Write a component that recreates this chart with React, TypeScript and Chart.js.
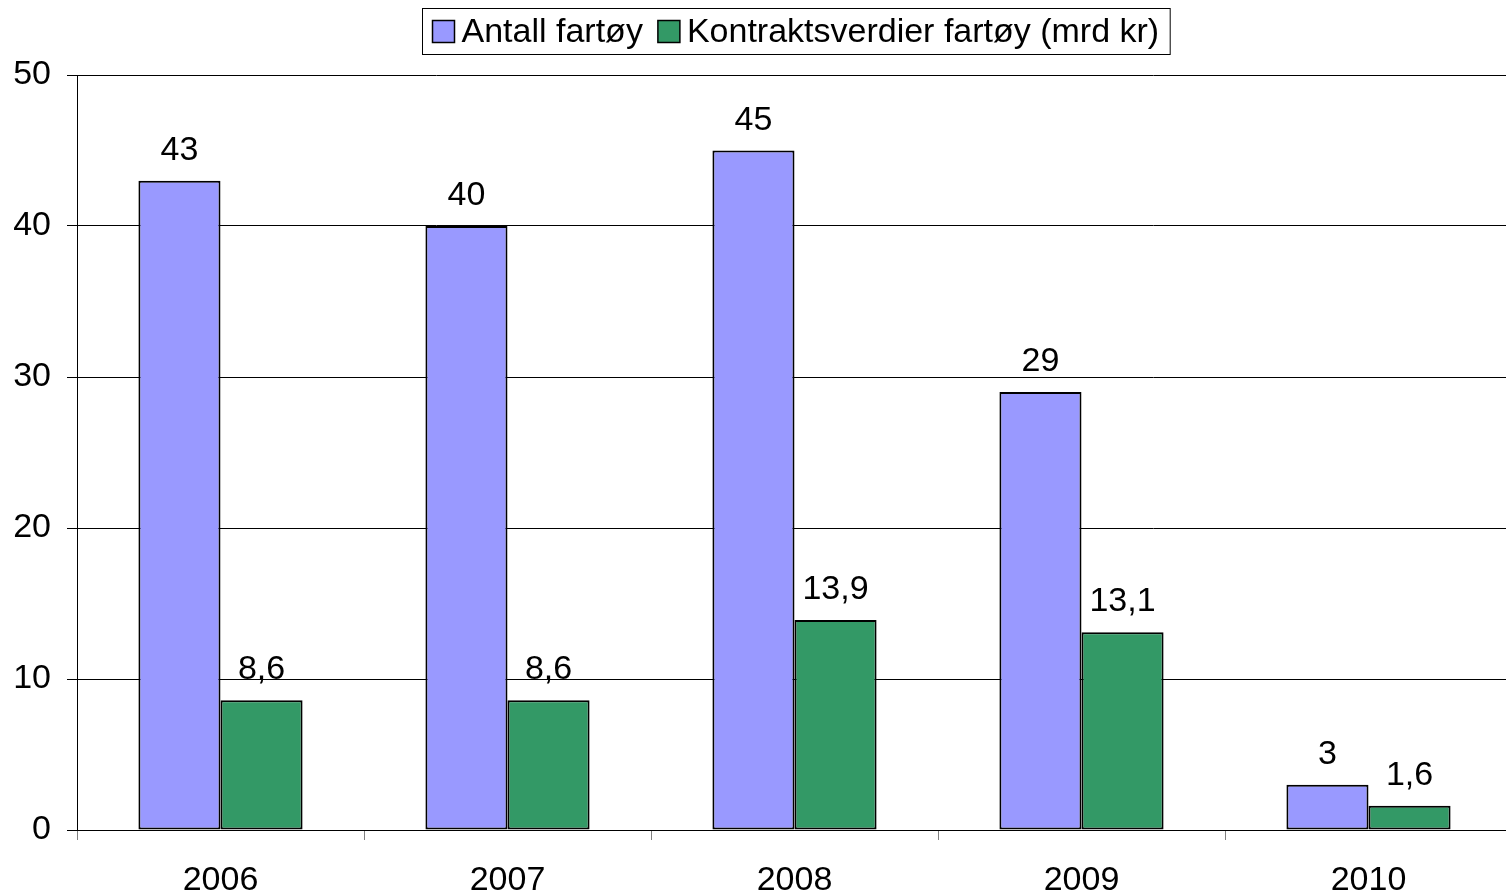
import React, { useEffect, useRef } from "react";
import { Chart, registerables } from "chart.js";

Chart.register(...registerables);

const categories = ["2006", "2007", "2008", "2009", "2010"];
const antallFartoy = [43, 40, 45, 29, 3];
const kontraktsverdier = [8.6, 8.6, 13.9, 13.1, 1.6];
const seriesLabels = ["Antall fartøy", "Kontraktsverdier fartøy (mrd kr)"];
const yTicks = [0, 10, 20, 30, 40, 50];

const FONT = "'Liberation Sans', Arial, sans-serif";
const FS = 34;

const fmt = (v: number) => v.toString().replace(".", ",");

const valueLabels = {
  id: "valueLabels",
  afterDatasetsDraw(chart: any) {
    const ctx = chart.ctx;
    ctx.save();
    ctx.font = `${FS}px ${FONT}`;
    ctx.fillStyle = "#000";
    ctx.textAlign = "center";
    ctx.textBaseline = "alphabetic";
    chart.data.datasets.forEach((ds: any, di: number) => {
      const meta = chart.getDatasetMeta(di);
      meta.data.forEach((bar: any, i: number) => {
        ctx.fillText(fmt(ds.data[i]), bar.x, bar.y - 21);
      });
    });
    ctx.restore();
  },
};

const boxLegend = {
  id: "boxLegend",
  afterDraw(chart: any) {
    const ctx = chart.ctx;
    ctx.save();
    ctx.font = `${FS}px ${FONT}`;
    const ds = chart.data.datasets;
    const widths = ds.map((d: any) => ctx.measureText(d.label).width);
    const padL = 10, padR = 11, sq = 22, gapT = 7, gapItem = 15;
    const total = padL + sq + gapT + widths[0] + gapItem + sq + gapT + widths[1] + padR;
    const cx = 795.5;
    const left = Math.round(cx - total / 2) + 0.5;
    const top = 8.5, h = 46;
    ctx.strokeStyle = "#000";
    ctx.lineWidth = 1;
    ctx.fillStyle = "#fff";
    ctx.fillRect(left, top, total, h);
    ctx.strokeRect(left, top, total, h);
    let x = left + padL;
    const cy = top + h / 2;
    ds.forEach((d: any, i: number) => {
      ctx.fillStyle = d.backgroundColor;
      ctx.fillRect(x, cy - sq / 2, sq, sq);
      ctx.strokeStyle = "#000";
      ctx.lineWidth = 1.5;
      ctx.strokeRect(x, cy - sq / 2, sq, sq);
      x += sq + gapT;
      ctx.fillStyle = "#000";
      ctx.textAlign = "left";
      ctx.textBaseline = "middle";
      ctx.fillText(d.label, x, cy + 1);
      x += widths[i] + gapItem;
    });
    ctx.restore();
  },
};

export default function App() {
  const ref = useRef<HTMLCanvasElement>(null);
  useEffect(() => {
    if (!ref.current) return;
    const chart = new Chart(ref.current, {
      type: "bar",
      data: {
        labels: categories,
        datasets: [
          {
            label: seriesLabels[0],
            data: antallFartoy,
            backgroundColor: "#9999FF",
            borderColor: "#000",
            borderWidth: 2,
            borderSkipped: false,
            categoryPercentage: 0.572,
            barPercentage: 1,
          },
          {
            label: seriesLabels[1],
            data: kontraktsverdier,
            backgroundColor: "#339966",
            borderColor: "#000",
            borderWidth: 2,
            borderSkipped: false,
            categoryPercentage: 0.572,
            barPercentage: 1,
          },
        ],
      },
      options: {
        animation: false,
        responsive: false,
        devicePixelRatio: 1,
        layout: { padding: { top: 75, right: 18, left: 0, bottom: 0 } },
        plugins: {
          legend: { display: false },
          tooltip: { enabled: false },
        },
        scales: {
          x: {
            offset: true,
            grid: {
              offset: true,
              drawOnChartArea: false,
              drawTicks: true,
              tickLength: 10,
              color: "#808080",
            },
            border: { display: true, color: "#000", width: 1 },
            ticks: {
              font: { family: FONT, size: FS },
              color: "#000",
              padding: 20,
              maxRotation: 0,
            },
            afterFit: (s: any) => {
              s.height = 66;
            },
          },
          y: {
            min: 0,
            max: 50,
            afterBuildTicks: (s: any) => {
              s.ticks = yTicks.map((v) => ({ value: v }));
            },
            grid: {
              color: "#000",
              lineWidth: 1,
              tickLength: 10,
            },
            border: { display: true, color: "#000", width: 1 },
            ticks: {
              font: { family: FONT, size: FS },
              color: "#000",
              padding: 16,
            },
            afterFit: (s: any) => {
              s.width = 77;
            },
          },
        },
      },
      plugins: [valueLabels, boxLegend],
    });
    return () => chart.destroy();
  }, []);
  return (
    <div
      style={{
        position: "fixed",
        left: 0,
        top: 0,
        width: 1506,
        height: 896,
        overflow: "hidden",
        background: "#fff",
      }}
    >
      <canvas ref={ref} width={1530} height={896} style={{ width: 1530, height: 896, display: "block" }} />
    </div>
  );
}
